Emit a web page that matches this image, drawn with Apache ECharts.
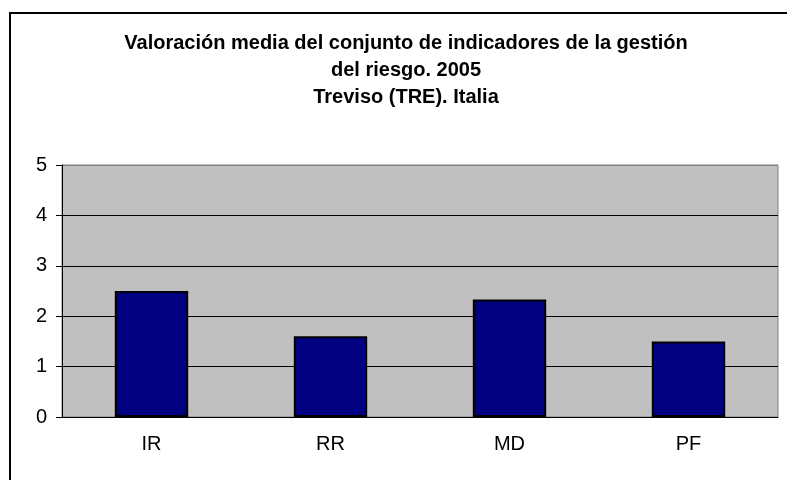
<!DOCTYPE html>
<html>
<head>
<meta charset="utf-8">
<script src="https://cdn.jsdelivr.net/npm/echarts@6/dist/echarts.min.js"></script>
<style>
    html, body { margin: 0; padding: 0; background: #fff; }
    #frame { position: absolute; left: 9px; top: 12px; width: 800px; height: 480px; border-left: 2px solid #000; border-top: 2px solid #000; }
    #main { position: absolute; left: 0; top: 0; width: 787px; height: 480px; }
</style>
</head>
<body>
<div id="frame"></div>
<div id="main"></div>
<script>
const categories = ['IR', 'RR', 'MD', 'PF'];
const values = [2.5, 1.6, 2.33, 1.5];
const titleLines = [
    'Valoración media del conjunto de indicadores de la gestión',
    'del riesgo. 2005',
    'Treviso (TRE). Italia'
];

let myChart = echarts.init(document.getElementById('main'));
myChart.setOption({
    animation: false,
    textStyle: { fontFamily: 'Liberation Sans, Arial, sans-serif' },
    title: {
        text: titleLines.join('\n'),
        left: 401,
        top: 25,
        textAlign: 'center',
        textStyle: {
            fontFamily: 'Liberation Sans, Arial, sans-serif',
            fontSize: 20,
            fontWeight: 'bold',
            color: '#000',
            lineHeight: 27
        }
    },
    grid: {
        left: 62,
        top: 165,
        right: 9,
        bottom: 63,
        show: true,
        backgroundColor: '#C0C0C0',
        borderColor: '#808080',
        borderWidth: 1
    },
    xAxis: {
        type: 'category',
        data: categories,
        axisLine: { lineStyle: { color: '#000', width: 1 } },
        axisTick: { length: 6, lineStyle: { color: '#000' } },
        axisLabel: { color: '#000', fontSize: 20, margin: 17 }
    },
    yAxis: {
        type: 'value',
        min: 0,
        max: 5,
        interval: 1,
        axisLine: { show: true, lineStyle: { color: '#000', width: 1 } },
        axisTick: { show: true, length: 6, lineStyle: { color: '#000' } },
        axisLabel: { color: '#000', fontSize: 20, margin: 15 },
        splitLine: { lineStyle: { color: ['#000', '#000', '#000', '#000', '#000', '#808080'], width: 1 } }
    },
    series: [{
        type: 'bar',
        data: values,
        barWidth: '41%',
        itemStyle: {
            color: '#000080',
            borderColor: '#000',
            borderWidth: 2
        }
    }]
});
</script>
</body>
</html>
